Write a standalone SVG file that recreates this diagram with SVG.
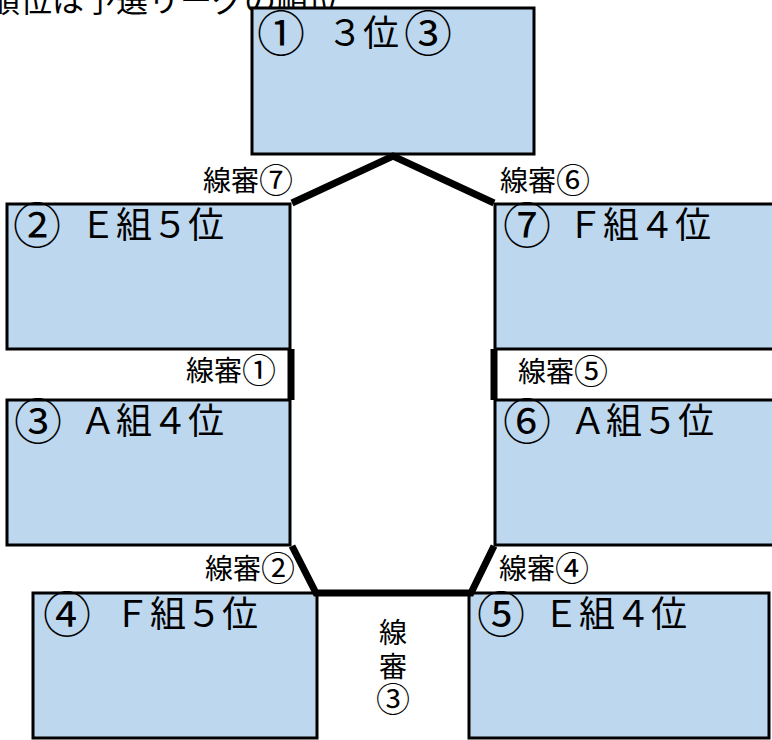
<svg xmlns="http://www.w3.org/2000/svg" width="772" height="740" viewBox="0 0 772 740">
<style>
.box{fill:#BDD7EE;stroke:#000;stroke-width:3}
text{font-family:"Noto Sans CJK JP","Noto Sans CJK SC",sans-serif;fill:#000}
.big{font-size:36px}
.bc{font-size:48px}
.sm{font-size:28px}
.sc{font-size:34px}
.ln{fill:none;stroke:#000;stroke-width:7;stroke-linejoin:miter}
</style>
<rect width="772" height="740" fill="#fff"/>
<text x="-12" y="12" style="font-size:32px">順位は予選リーグの順位</text>
<g id="node1"><rect class="box" x="252" y="8" width="282" height="146"/><text class="big" y="46"><tspan class="bc" x="257" dy="5">①</tspan><tspan x="327" dy="-5">３位</tspan><tspan class="bc" x="404" dy="5">③</tspan></text></g>
<g id="node2"><rect class="box" x="7" y="204" width="283" height="145"/><text class="big" y="238"><tspan class="bc" x="13" dy="5">②</tspan><tspan x="80" dy="-5">Ｅ組５位</tspan></text></g>
<g id="node3"><rect class="box" x="7" y="400" width="283" height="145"/><text class="big" y="434"><tspan class="bc" x="14" dy="5">③</tspan><tspan x="80" dy="-5">Ａ組４位</tspan></text></g>
<g id="node4"><rect class="box" x="33" y="593" width="284" height="145"/><text class="big" y="627"><tspan class="bc" x="43" dy="5">④</tspan><tspan x="114" dy="-5">Ｆ組５位</tspan></text></g>
<g id="node5"><rect class="box" x="469" y="593" width="300" height="145"/><text class="big" y="627"><tspan class="bc" x="477" dy="5">⑤</tspan><tspan x="543" dy="-5">Ｅ組４位</tspan></text></g>
<g id="node6"><rect class="box" x="495" y="400" width="300" height="145"/><text class="big" y="434"><tspan class="bc" x="503" dy="5">⑥</tspan><tspan x="570" dy="-5">Ａ組５位</tspan></text></g>
<g id="node7"><rect class="box" x="495" y="204" width="300" height="145"/><text class="big" y="238"><tspan class="bc" x="503" dy="5">⑦</tspan><tspan x="567" dy="-5">Ｆ組４位</tspan></text></g>
<g id="connectors">
<polyline class="ln" points="292,203 393,156 494,203"/>
<line class="ln" x1="291" y1="349" x2="291" y2="400"/>
<line class="ln" x1="494" y1="349" x2="494" y2="400"/>
<polyline class="ln" points="292,546 316,593 471,593 494,546"/>
</g>
<g id="labels">
<text class="sm" x="203" y="191">線審<tspan class="sc" dy="2">⑦</tspan></text>
<text class="sm" x="500" y="191">線審<tspan class="sc" dy="2">⑥</tspan></text>
<text class="sm" x="186" y="381">線審<tspan class="sc" dy="2">①</tspan></text>
<text class="sm" x="518" y="382">線審<tspan class="sc" dy="2">⑤</tspan></text>
<text class="sm" x="205" y="579">線審<tspan class="sc" dy="2">②</tspan></text>
<text class="sm" x="499" y="579">線審<tspan class="sc" dy="2">④</tspan></text>
<text class="sm" text-anchor="middle"><tspan x="393" y="643">線</tspan><tspan x="393" y="677">審</tspan><tspan class="sc" x="393" y="712">③</tspan></text>
</g>
</svg>
